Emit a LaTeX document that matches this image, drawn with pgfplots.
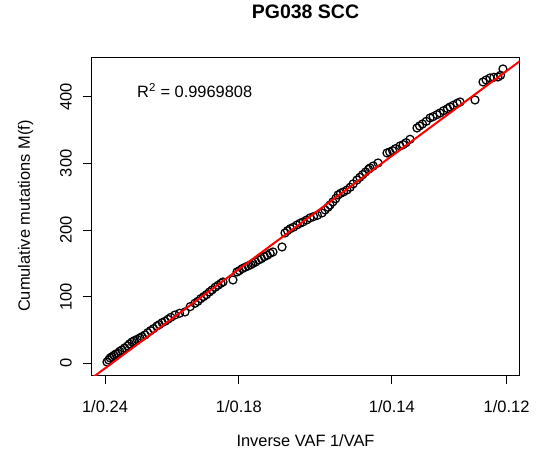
\documentclass[border=0pt]{standalone}
\usepackage{pgfplots}
\pgfplotsset{compat=1.18}
\usepackage{fontspec}
\setmainfont{Liberation Sans}

\pgfplotstableread{
x y
4.187 2
4.205 5
4.22 8
4.24 10
4.26 12
4.28 14
4.30 15
4.32 18
4.343 20
4.37 23
4.40 26
4.42 29
4.447 32
4.47 34
4.50 36
4.53 38
4.55 40
4.582 42.5
4.61 46
4.64 49
4.67 52
4.706 56
4.73 58
4.76 61
4.79 63
4.82 66
4.85 69
4.893 72.5
4.94 75
4.997 77
5.05 85
5.10 90
5.13 93
5.16 97
5.19 100
5.22 103
5.25 107
5.277 110
5.31 114
5.34 117
5.37 120
5.391 122
5.494 125
5.536 137
5.56 139
5.59 142
5.62 144
5.65 146
5.68 148
5.702 150
5.73 152
5.76 155
5.79 157
5.82 160
5.85 162
5.88 165
5.909 167
6.003 174.5
6.034 195.5
6.06 199
6.09 202
6.12 204
6.158 207.5
6.19 210
6.22 212
6.26 215
6.293 218
6.33 220
6.37 222
6.418 225.5
6.45 230
6.48 234
6.501 237.5
6.53 242
6.56 247
6.584 252.5
6.61 255
6.64 257
6.677 260
6.71 264
6.74 269
6.781 275
6.81 279
6.84 283
6.87 287
6.90 291
6.916 293
6.95 296
6.999 300.5
7.092 315.5
7.12 317
7.15 319
7.18 322
7.227 326
7.26 328
7.29 331
7.331 336
7.403 353
7.43 356
7.46 359
7.50 363
7.538 368
7.57 370
7.61 373
7.642 375.5
7.68 379
7.72 382
7.746 384.5
7.78 387
7.82 390
7.850 392
8.005 395
8.088 422
8.12 425
8.161 428
8.20 429
8.243 429.5
8.27 432
8.295 441.5
}\cummut

\begin{document}
\begin{tikzpicture}
\begin{axis}[
    scale only axis,
    width=427.6bp, height=317.7bp,
    xmin=4.0287, xmax=8.4645,
    ymin=-17.55, ymax=459.0,
    axis line style={line width=0.9bp},
    xtick={4.16667,5.55556,7.14286,8.33333},
    xticklabels={1/0.24,1/0.18,1/0.14,1/0.12},
    ytick={0,100,200,300,400},
    yticklabels={},
    xtick pos=bottom, ytick pos=left,
    tick align=outside,
    major tick length=9bp,
    tick style={black, line width=0.9bp},
    /pgf/number format/assume math mode=true,
    ticklabel style={font=\fontsize{16.5bp}{19bp}\selectfont},
    xticklabel style={anchor=north, inner sep=0pt},
    xticklabel shift=16bp,
    title={\textbf{PG038 SCC}},
    title style={font=\fontsize{19.5bp}{22bp}\selectfont, at={(axis description cs:0.5,1.1048)}, anchor=base, inner sep=0pt},
    xlabel={Inverse VAF 1/VAF},
    ylabel={Cumulative mutations M(f)},
    label style={font=\fontsize{16.4bp}{19bp}\selectfont},
    xlabel style={at={(axis description cs:0.5,-0.2257)}, anchor=base, inner sep=0pt},
    ylabel style={at={(axis description cs:-0.1443,0.5)}, anchor=base, inner sep=0pt},
    clip mode=individual,
]
\addplot[only marks, mark=o, mark size=4bp, mark options={black, line width=1.25bp}] table[x=x, y=y] {\cummut};
\addplot[red, line width=2bp] coordinates {(3.9,-36.1) (8.6,467.1)};
\node[anchor=base west, inner sep=0pt, font=\fontsize{16.4bp}{19bp}\selectfont] at (axis cs:4.499,399) {R\textsuperscript{2} = 0.9969808};
\foreach \v in {0,100,200,300,400} {
  \edef\temp{\noexpand\node[rotate=90, anchor=base, inner sep=0pt, font=\noexpand\fontsize{16.5bp}{19bp}\noexpand\selectfont] at ([xshift=-20bp]axis cs:4.0287,\v) {\v};}
  \temp
}
\end{axis}
\path ([xshift=-91.7bp,yshift=-87bp]current axis.south west) rectangle ([xshift=445.3bp,yshift=375bp]current axis.south west);
\end{tikzpicture}
\end{document}
